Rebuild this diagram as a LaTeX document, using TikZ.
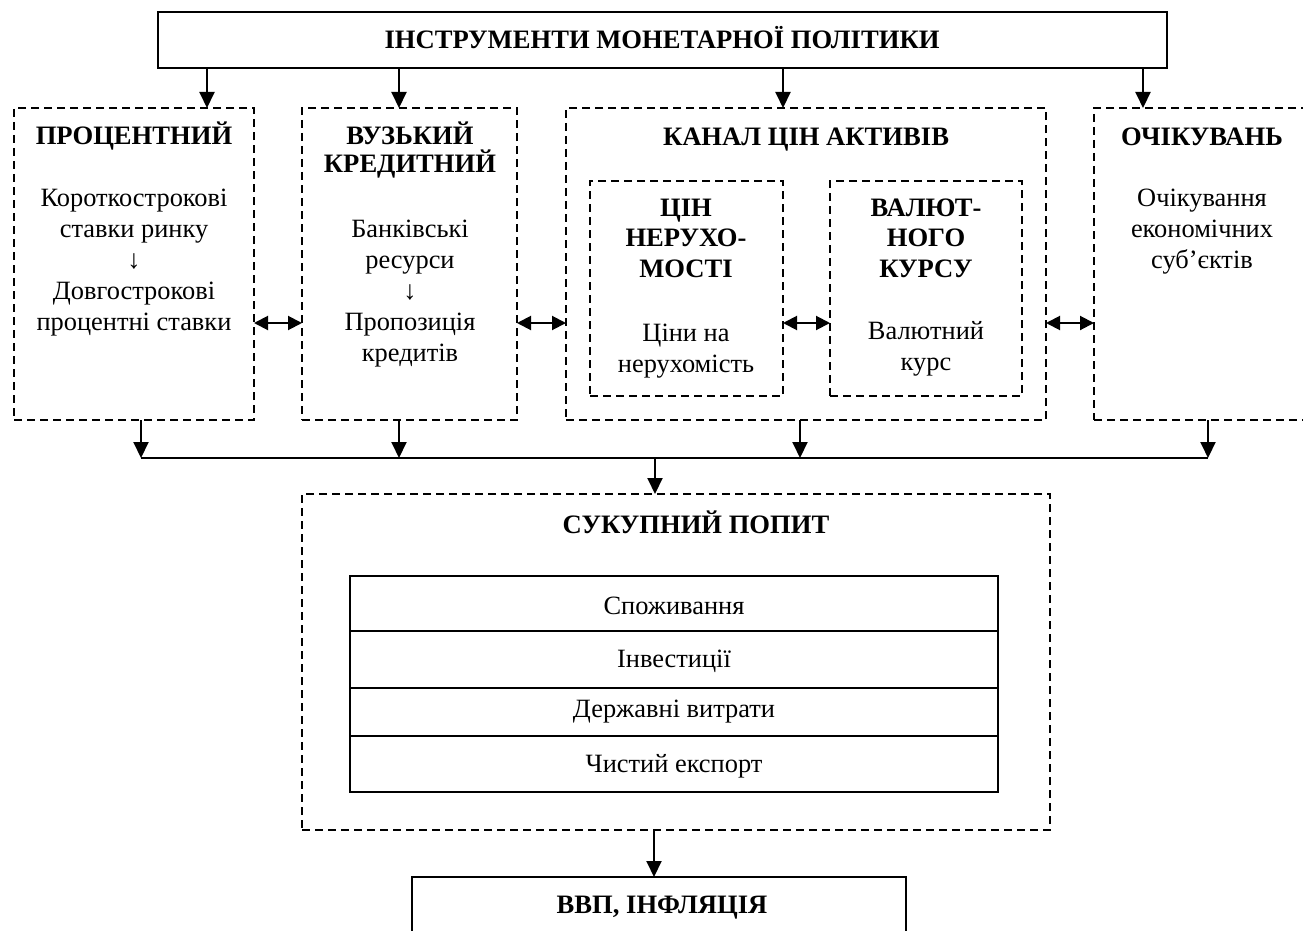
\documentclass[tikz,border=0pt]{standalone}
\usepackage{fontspec}
\setmainfont{Liberation Serif}
\usetikzlibrary{arrows.meta,fit}
\begin{document}
\begin{tikzpicture}[x=1pt,y=-1pt,
  every node/.style={font=\fontsize{26.4}{31}\selectfont},
  dbox/.style={draw, dash pattern=on 8pt off 5pt, line width=2pt, inner sep=0pt, outer sep=0pt},
  sbox/.style={draw, line width=2pt, inner sep=0pt, outer sep=0pt},
  arr/.style={line width=2pt, -{Triangle[length=16pt,width=15pt]}},
  darr/.style={line width=2pt, {Triangle[length=14pt,width=14pt]}-{Triangle[length=14pt,width=14pt]}},
  hd/.style={font=\fontsize{26.6}{30.5}\selectfont\bfseries, align=center, anchor=base, inner sep=0pt},
  tx/.style={align=center, anchor=base, inner sep=0pt},
  line/.style={line width=2pt}
]
\useasboundingbox (0,0) rectangle (1303,931);
\clip (0,0) rectangle (1303,931);

% boxes
\node[sbox, fit={(158,12)(1167,68)}] (top) {};
\node[dbox, fit={(14,108)(254,420)}] (proc) {};
\node[dbox, fit={(302,108)(517,420)}] (vuz) {};
\node[dbox, fit={(566,108)(1046,420)}] (kanal) {};
\node[dbox, fit={(590,181)(783,396)}] (inA) {};
\node[dbox, fit={(830,181)(1022,396)}] (inB) {};
\node[dbox, fit={(1094,108)(1312,420)}] (och) {};
\node[dbox, fit={(302,494)(1050,830)}] (suk) {};
\node[sbox, fit={(350,576)(998,631)}] (r1) {};
\node[sbox, fit={(350,631)(998,688)}] (r2) {};
\node[sbox, fit={(350,688)(998,736)}] (r3) {};
\node[sbox, fit={(350,736)(998,792)}] (r4) {};
\node[sbox, fit={(412,877)(906,935)}] (gdp) {};

% texts (anchor = baseline of the last line)
\node[hd] (ttop) at (662,49) {ІНСТРУМЕНТИ МОНЕТАРНОЇ ПОЛІТИКИ};
\node[hd] (tproc) at (134,144) {ПРОЦЕНТНИЙ};
\node[tx] (bproc) at (134,330) {Короткострокові\\ставки ринку\\↓\\Довгострокові\\процентні ставки};
\node[hd, font=\fontsize{26.6}{28}\selectfont\bfseries] (tvuz) at (410,172) {ВУЗЬКИЙ\\КРЕДИТНИЙ};
\node[tx] (bvuz) at (410,361) {Банківські\\ресурси\\↓\\Пропозиція\\кредитів};
\node[hd] (tkanal) at (806,146) {КАНАЛ ЦІН АКТИВІВ};
\node[hd] (tinA) at (686,277) {ЦІН\\НЕРУХО-\\МОСТІ};
\node[tx] (binA) at (686,372) {Ціни на\\нерухомість};
\node[hd] (tinB) at (926,277) {ВАЛЮТ-\\НОГО\\КУРСУ};
\node[tx] (binB) at (926,370) {Валютний\\курс};
\node[hd] (toch) at (1202,146) {ОЧІКУВАНЬ};
\node[tx] (boch) at (1202,268) {Очікування\\економічних\\суб’єктів};
\node[hd] (tsuk) at (696,533) {СУКУПНИЙ ПОПИТ};
\node[tx] (t1) at (674,614) {Споживання};
\node[tx] (t2) at (674,667) {Інвестиції};
\node[tx] (t3) at (674,717) {Державні витрати};
\node[tx] (t4) at (674,772) {Чистий експорт};
\node[hd] (tgdp) at (662,913) {ВВП, ІНФЛЯЦІЯ};

% helper coordinates
\coordinate (a1) at (207,0);
\coordinate (a2) at (399,0);
\coordinate (a3) at (783,0);
\coordinate (a4) at (1143,0);
\coordinate (dy) at (0,323);
\coordinate (b1) at (141,0);
\coordinate (b2) at (399,0);
\coordinate (b3) at (800,0);
\coordinate (b4) at (1208,0);
\coordinate (hl) at (0,458);
\coordinate (c1) at (655,0);
\coordinate (c2) at (654,0);

% arrows from top
\draw[arr] (a1 |- top.south) -- (a1 |- proc.north);
\draw[arr] (a2 |- top.south) -- (a2 |- vuz.north);
\draw[arr] (a3 |- top.south) -- (a3 |- kanal.north);
\draw[arr] (a4 |- top.south) -- (a4 |- och.north);

% double arrows
\draw[darr] (proc.east |- dy) -- (vuz.west |- dy);
\draw[darr] (vuz.east |- dy) -- (kanal.west |- dy);
\draw[darr] (inA.east |- dy) -- (inB.west |- dy);
\draw[darr] (kanal.east |- dy) -- (och.west |- dy);

% arrows down to collector line
\draw[arr] (b1 |- proc.south) -- (b1 |- hl);
\draw[arr] (b2 |- vuz.south) -- (b2 |- hl);
\draw[arr] (b3 |- kanal.south) -- (b3 |- hl);
\draw[arr] (b4 |- och.south) -- (b4 |- hl);
\draw[line] (b1 |- hl) -- (b4 |- hl);
\draw[arr] (c1 |- hl) -- (c1 |- suk.north);
\draw[arr] (c2 |- suk.south) -- (c2 |- gdp.north);
\end{tikzpicture}
\end{document}
